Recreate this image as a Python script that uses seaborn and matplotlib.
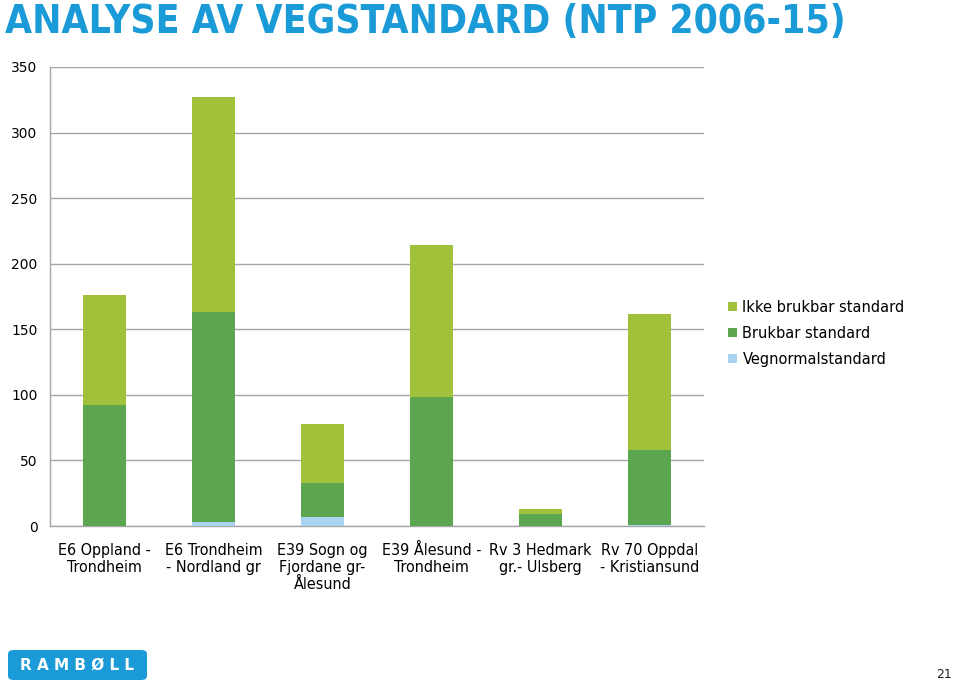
import matplotlib
matplotlib.use("Agg")
import matplotlib.pyplot as plt
import seaborn as sns
import pandas as pd
import numpy as np
from matplotlib.patches import FancyBboxPatch

categories = ["E6 Oppland -\nTrondheim", "E6 Trondheim\n- Nordland gr",
              "E39 Sogn og\nFjordane gr-\nÅlesund", "E39 Ålesund -\nTrondheim",
              "Rv 3 Hedmark\ngr.- Ulsberg", "Rv 70 Oppdal\n- Kristiansund"]
vegnormal = [0, 3, 7, 0, 0, 1]
brukbar = [92, 160, 26, 98, 9, 57]
ikke_brukbar = [84, 164, 45, 116, 4, 104]
series_names = ["Ikke brukbar standard", "Brukbar standard", "Vegnormalstandard"]
colors = {"Ikke brukbar standard": "#a2c13b",
          "Brukbar standard": "#5ba64f",
          "Vegnormalstandard": "#a8d4f2"}

sns.set_style("white")
plt.rcParams["font.family"] = ["DejaVu Sans"]

fig = plt.figure(figsize=(9.59, 6.89), dpi=100)
ax = fig.add_axes([50/959, (689-526)/689, 654/959, 459/689])

v = np.array(vegnormal)
b = np.array(brukbar)
i = np.array(ikke_brukbar)
cum = {"Vegnormalstandard": v, "Brukbar standard": v + b, "Ikke brukbar standard": v + b + i}

for name in series_names:  # tallest first, overlap
    df = pd.DataFrame({"cat": categories, "val": cum[name]})
    sns.barplot(data=df, x="cat", y="val", color=colors[name], width=0.4,
                saturation=1, ax=ax, label=name, zorder=3, linewidth=0, edgecolor="none")

ax.set_xlim(-0.5, 5.5)
ax.set_ylim(0, 350)
ax.set_yticks(range(0, 351, 50))
ax.set_xlabel("")
ax.set_ylabel("")
ax.grid(axis="y", color="#a6a6a6", linewidth=1, zorder=0)
ax.set_axisbelow(True)
for s in ["top", "right"]:
    ax.spines[s].set_visible(False)
for s in ["left", "bottom"]:
    ax.spines[s].set_color("#a6a6a6")
    ax.spines[s].set_linewidth(1)
ax.tick_params(axis="x", which="major", length=0, pad=12, labelcolor="black")
ax.set_xticks(np.arange(-0.5, 6.0, 1.0), minor=True)
ax.tick_params(axis="x", which="minor", length=5, color="#a6a6a6", direction="out")
ax.tick_params(axis="y", length=5, color="#a6a6a6", pad=4, labelsize=10, labelcolor="black")
for lab in ax.get_xticklabels():
    lab.set_fontsize(11.5)
    lab.set_fontstretch("condensed")
    lab.set_va("top")
    lab.set_linespacing(1.2)

handles, labels = ax.get_legend_handles_labels()
leg = ax.legend(handles, labels, loc="upper left", bbox_to_anchor=(722/959, (689-294)/689),
          bbox_transform=fig.transFigure, frameon=False, fontsize=10.5,
          handlelength=0.6, handleheight=0.6, handletextpad=0.4, labelspacing=0.75,
          borderaxespad=0)
for t in leg.get_texts():
    t.set_color("black")

fig.text(5/959, 1 - 3/689, "ANALYSE AV VEGSTANDARD (NTP 2006-15)", color="#1b9ad8",
         fontsize=28, fontweight="bold", fontstretch="condensed", va="top", ha="left")

logo = FancyBboxPatch((8/959, (689-680)/689), 139/959, 30/689,
                      boxstyle="round,pad=0,rounding_size=0.006",
                      transform=fig.transFigure, facecolor="#1b9ad8", edgecolor="none")
fig.patches.append(logo)
fig.text(77/959, (689-665)/689, "R A M B Ø L L", color="white", fontsize=11, fontweight="bold",
         ha="center", va="center")
fig.text(952/959, (689-674)/689, "21", fontsize=9, ha="right", va="center", color="#222222")

fig.savefig("out.png", dpi=100)
